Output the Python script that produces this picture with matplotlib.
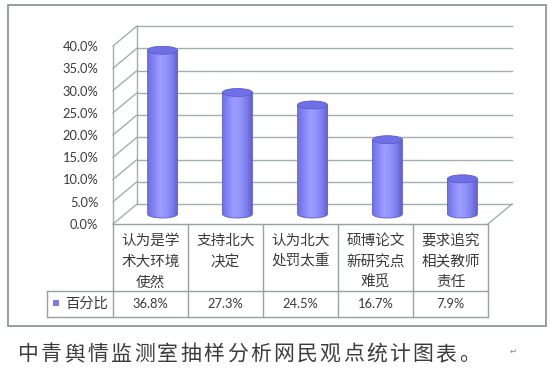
import numpy as np
import matplotlib
matplotlib.use("Agg")
import matplotlib.pyplot as plt
from matplotlib.patches import Rectangle, Ellipse, PathPatch
from matplotlib.path import Path

# data
categories = ["认为是学\n术大环境\n使然", "支持北大\n决定", "认为北大\n处罚太重",
              "硕博论文\n新研究点\n难觅", "要求追究\n相关教师\n责任"]
values = [36.8, 27.3, 24.5, 16.7, 7.9]
series_name = "百分比"
yticks = [0, 5, 10, 15, 20, 25, 30, 35, 40]
caption = "中青舆情监测室抽样分析网民观点统计图表。"

CJK = ["Noto Sans CJK SC", "DejaVu Sans"]
NUM = ["Lato", "Noto Sans CJK SC", "DejaVu Sans"]
grid_c = "#a3aeae"
txt_c = "#3a3a3a"

W, H = 550, 371
fig = plt.figure(figsize=(W / 100, H / 100), dpi=100)

# pixel overlay for border, table, caption
bg = fig.add_axes([0, 0, 1, 1])
bg.set_xlim(0, W)
bg.set_ylim(H, 0)
bg.axis("off")

# front plane of the 3d plot
x0, x1, y0, y1 = 113, 488, 224, 46
ax = fig.add_axes([x0 / W, (H - y0) / H, (x1 - x0) / W, (y0 - y1) / H])
ax.patch.set_alpha(0)
n = len(values)
ymax = yticks[-1]
px_per_unit = (y0 - y1) / ymax
DX = 24 / ((x1 - x0) / n)     # depth offset in category units
DY = 20 / px_per_unit          # depth offset in value units

# walls / grid
for L in yticks:
    ax.plot([DX, n + DX], [L + DY, L + DY], color=grid_c, lw=1, clip_on=False)
    ax.plot([0, DX], [L, L + DY], color=grid_c, lw=1, clip_on=False)
ax.plot([0, 0], [0, ymax], color=grid_c, lw=1, clip_on=False)
ax.plot([DX, DX], [DY, ymax + DY], color=grid_c, lw=1, clip_on=False)
ax.plot([n, n + DX], [0, DY], color=grid_c, lw=1, clip_on=False)

# cylinders
bw = 0.4
eh = 8 / px_per_unit
grad = np.array([[0.44, 0.44, 0.90], [0.52, 0.52, 0.97], [0.62, 0.62, 1.0],
                 [0.58, 0.58, 0.99], [0.50, 0.50, 0.93], [0.38, 0.38, 0.82]])
xs = np.linspace(0, 1, 60)
img = np.stack([np.interp(xs, np.linspace(0, 1, len(grad)), grad[:, k]) for k in range(3)], axis=-1)[None, :, :]
for i, v in enumerate(values):
    xc = i + 0.5 + DX / 2
    yb = DY / 2
    yt = v + DY / 2
    t = np.linspace(np.pi, 2 * np.pi, 40)
    verts = [(xc - bw / 2, yt), (xc - bw / 2, yb)]
    verts += list(zip(xc + bw / 2 * np.cos(t), yb + eh / 2 * np.sin(t)))
    verts += [(xc + bw / 2, yt), (xc - bw / 2, yt)]
    path = Path(verts)
    clip = PathPatch(path, transform=ax.transData, facecolor="none", edgecolor="none")
    ax.add_patch(clip)
    im = ax.imshow(img, extent=(xc - bw / 2, xc + bw / 2, yb - eh, yt), aspect="auto",
                   interpolation="bilinear", zorder=3)
    im.set_clip_path(clip)
    ax.add_patch(PathPatch(path, facecolor="none", edgecolor="#5a5ad0", lw=0.6, zorder=4))
    ax.add_patch(Ellipse((xc, yt), bw, eh, facecolor="#7070e6", edgecolor="#5c5cd2",
                         lw=0.6, zorder=5))

ax.set_xlim(0, n)
ax.set_ylim(0, ymax)
ax.set_xticks([])
ax.set_yticks(yticks)
ax.set_yticklabels([f"{t:.1f}%" for t in yticks], family=NUM, fontsize=9.3, color=txt_c)
ax.tick_params(axis="y", length=0, pad=10.5)
for s in ax.spines.values():
    s.set_visible(False)

# outer border
bg.add_patch(Rectangle((8, 5), 538, 321, facecolor="none", edgecolor="#8f9999", lw=1.3))

# data table
cw = (x1 - x0) / n
r0, r1, r2 = 224, 291, 317
lx = 47
tc = "#97a2a2"
bg.plot([x0, x1], [r0, r0], color=tc, lw=1)
bg.plot([lx, x1], [r1, r1], color=tc, lw=1)
bg.plot([lx, x1], [r2, r2], color=tc, lw=1)
bg.plot([lx, lx], [r1, r2], color=tc, lw=1)
for i in range(n + 1):
    bg.plot([x0 + cw * i, x0 + cw * i], [r0, r2], color=tc, lw=1)
for i, (c, v) in enumerate(zip(categories, values)):
    cx = x0 + cw * (i + 0.5)
    bg.text(cx, 234, c, ha="center", va="top", ma="center", family=CJK,
            fontsize=10.5, color=txt_c, linespacing=1.6)
    bg.text(cx, 304, f"{v:.1f}%", ha="center", va="center", family=NUM,
            fontsize=9.3, color=txt_c)
bg.add_patch(Rectangle((53, 300), 6, 6, facecolor="#7b7bea", edgecolor="none"))
bg.text(65, 303.5, series_name, ha="left", va="center", family=CJK, fontsize=10.3, color=txt_c)

# caption, spaced like the original document text
for k, ch in enumerate(caption):
    bg.text(18 + 23.2 * k, 354, ch, ha="left", va="center", family=CJK, fontsize=15,
            color="#3c3c3c")
bg.text(513, 351, "↵", ha="center", va="center", fontsize=6, color="#888888")

fig.savefig("out.png", dpi=100)
